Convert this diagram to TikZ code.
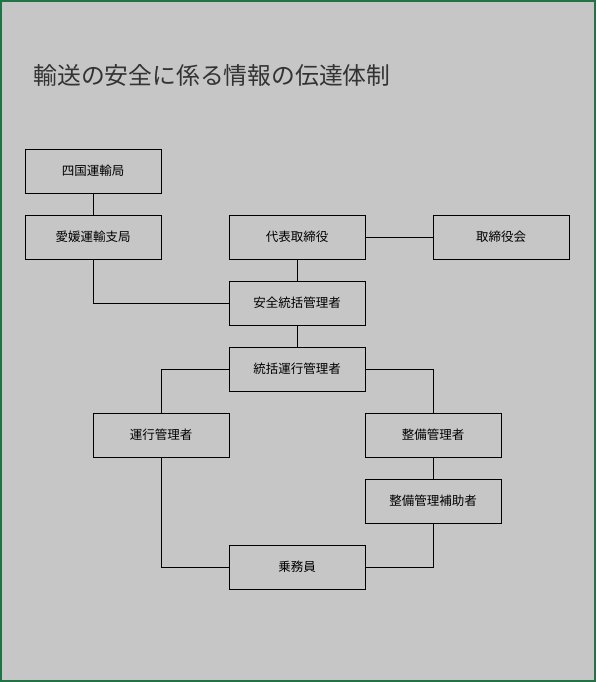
\documentclass[tikz,border=0pt]{standalone}
\usepackage{fontspec}
\newfontfamily\jpfont{Noto Sans CJK JP}
\usepackage{tikz}
\definecolor{sheetgray}{HTML}{C6C6C6}
\definecolor{framegreen}{HTML}{217346}
\tikzset{
    orgbox/.style={draw=black, line width=1pt, fill=sheetgray, minimum width=136pt, minimum height=44pt, inner sep=0pt, font=\jpfont\fontsize{12.5}{14}\selectfont},
    link/.style={black, line width=1pt}
}

\begin{document}
\begin{tikzpicture}[x=1pt, y=-1pt]
    % Background sheet and frame
    \useasboundingbox (0,0) rectangle (596,682);
    \draw[framegreen, line width=2pt, fill=sheetgray] (1,1) rectangle (595,681);

    % Title
    \node[anchor=west, font=\jpfont\fontsize{23.8}{28}\selectfont, text=black!80] (title) at (30,75) {輸送の安全に係る情報の伝達体制};

    % Boxes
    \node[orgbox] (shikoku) at (93,171) {四国運輸局};
    \node[orgbox] (ehime) at (93,237) {愛媛運輸支局};
    \node[orgbox] (daihyo) at (297,237) {代表取締役};
    \node[orgbox] (torikai) at (501,237) {取締役会};
    \node[orgbox] (anzen) at (297,303) {安全統括管理者};
    \node[orgbox] (tokatsu) at (297,369) {統括運行管理者};
    \node[orgbox] (unko) at (161,435) {運行管理者};
    \node[orgbox] (seibi) at (433,435) {整備管理者};
    \node[orgbox] (hojo) at (433,501) {整備管理補助者};
    \node[orgbox] (jomu) at (297,567) {乗務員};

    % Connectors
    \draw[link] (shikoku) -- (ehime);
    \draw[link] (ehime.south) |- (anzen.west);
    \draw[link] (daihyo) -- (torikai);
    \draw[link] (daihyo) -- (anzen);
    \draw[link] (anzen) -- (tokatsu);
    \draw[link] (tokatsu.west) -| (unko.north);
    \draw[link] (tokatsu.east) -| (seibi.north);
    \draw[link] (seibi) -- (hojo);
    \draw[link] (unko.south) |- (jomu.west);
    \draw[link] (hojo.south) |- (jomu.east);
\end{tikzpicture}
\end{document}
